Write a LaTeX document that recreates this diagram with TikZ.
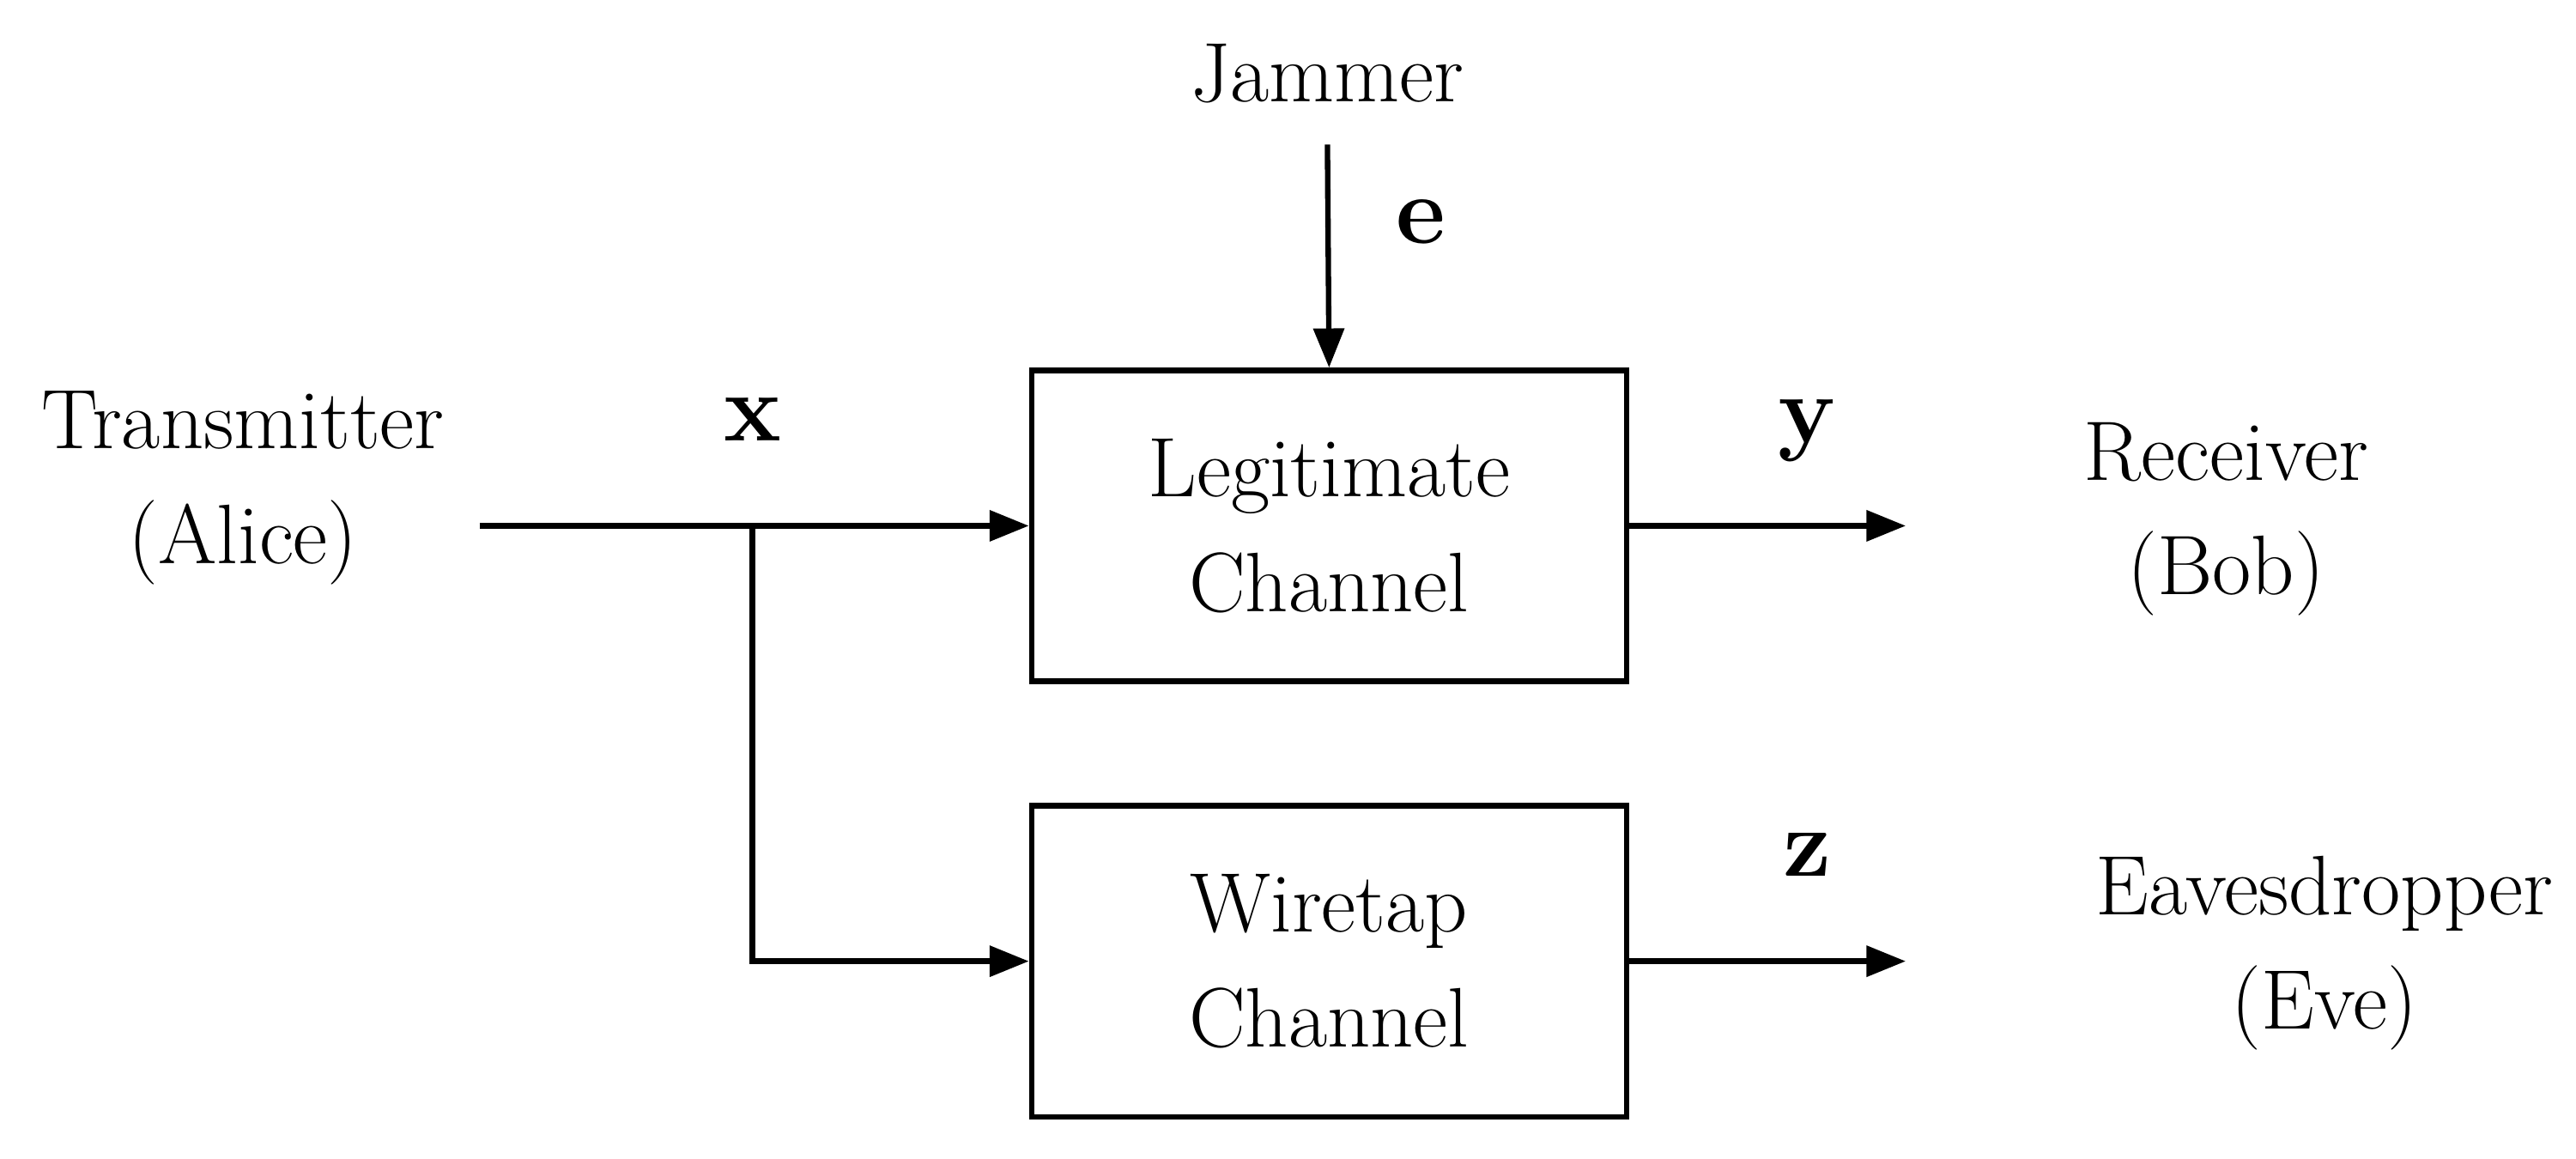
\documentclass[tikz,border=0pt]{standalone}
\usetikzlibrary{arrows.meta}
\begin{document}
\begin{tikzpicture}[x=0.01914cm,y=-0.01914cm,
  every node/.style={font=\fontsize{28}{38}\selectfont},
  box/.style={draw,line width=1.8pt,minimum width=6.93cm,minimum height=3.62cm,align=center,inner sep=0pt},
  lbl/.style={align=center},
  arr/.style={line width=1.8pt,-{Triangle[length=13pt,width=10pt]}},
  sig/.style={font=\fontsize{32}{38}\selectfont\bfseries}]
\useasboundingbox (0,0) rectangle (1568,705);
\node[box] (leg) at (809,320) {Legitimate\\Channel};
\node[box] (wt) at (809,585) {Wiretap\\Channel};
\node[lbl] (tx) at (148,297) {Transmitter\\(Alice)};
\node[lbl] (jam) at (808,45) {Jammer};
\node[lbl] (rx) at (1355,316) {Receiver\\(Bob)};
\node[lbl] (eve) at (1415,580) {Eavesdropper\\(Eve)};
\coordinate (s) at (292,320);
\coordinate (b) at (458,320);
\coordinate (j) at (808,88);
\coordinate (ro) at (1160,320);
\coordinate (eo) at (1160,585);
\draw[line width=1.8pt] (s) -- (b);
\draw[arr] (b) -- (leg.west);
\draw[arr] (b) |- (wt.west);
\draw[arr] (j) -- (leg.north);
\draw[arr] (leg.east) -- (ro);
\draw[arr] (wt.east) -- (eo);
\node[sig] (ex) at (458,255) {x};
\node[sig] (ey) at (1100,262) {y};
\node[sig] (ez) at (1100,520) {z};
\node[sig] (ee) at (865,135) {e};
\end{tikzpicture}
\end{document}
